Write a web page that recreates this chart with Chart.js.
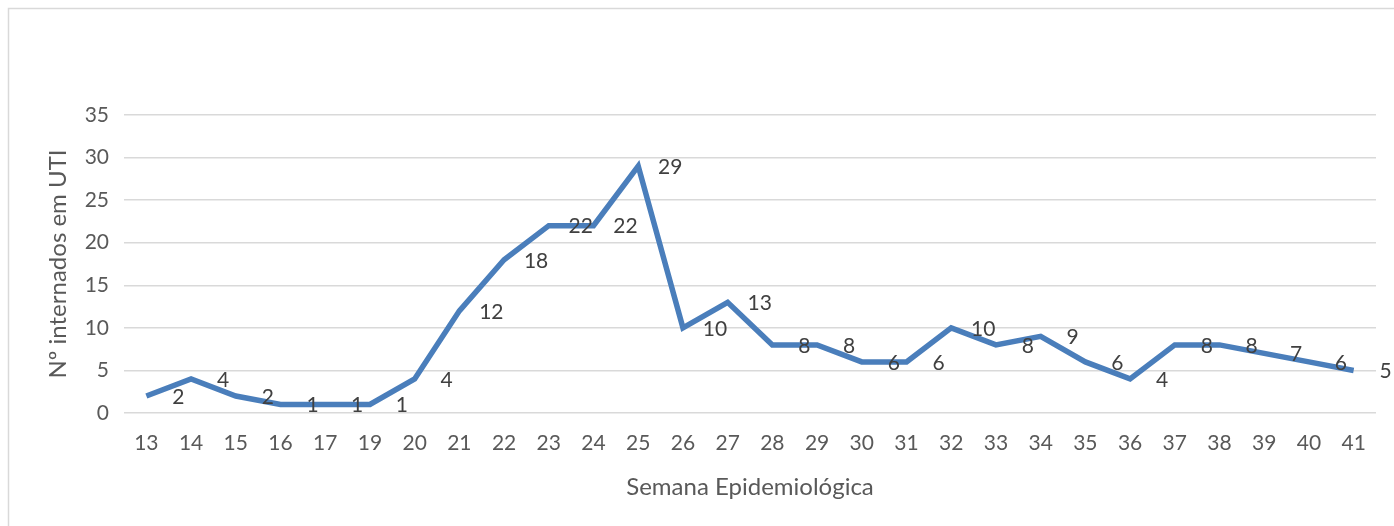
<!DOCTYPE html>
<html>
<head>
<meta charset="utf-8">
<script src="https://cdn.jsdelivr.net/npm/chart.js@4/dist/chart.umd.min.js"></script>
<style>
  html, body { margin: 0; padding: 0; background: #fff; }
  #wrap { width: 1394px; height: 526px; position: relative; }
</style>
</head>
<body>
<div id="wrap"><canvas id="chart" width="1394" height="526"></canvas></div>
<script>
// Semana epidemiológica (note: week 18 is absent in the source)
const weeks = ['13','14','15','16','17','19','20','21','22','23','24','25','26','27',
               '28','29','30','31','32','33','34','35','36','37','38','39','40','41'];
const internados = [2, 4, 2, 1, 1, 1, 4, 12, 18, 22, 22, 29, 10, 13,
                    8, 8, 6, 6, 10, 8, 9, 6, 4, 8, 8, 7, 6, 5];
const yTicks = [0, 5, 10, 15, 20, 25, 30, 35];

const FONT = 'Lato, "Open Sans", sans-serif';
const TEXT = '#595959';

// frame, axis titles and the value labels Excel puts to the right of each point
const decor = {
  id: 'decor',
  beforeDraw(chart) {
    const c = chart.ctx;
    c.save();
    c.strokeStyle = '#d9d9d9';
    c.lineWidth = 1.5;
    c.beginPath();
    c.moveTo(8.5, 530); c.lineTo(8.5, 8.5); c.lineTo(1400, 8.5);
    c.stroke();
    c.restore();
  },
  afterDatasetsDraw(chart) {
    const c = chart.ctx;
    const a = chart.chartArea;
    c.save();
    c.fillStyle = TEXT;
    c.font = '24px ' + FONT;
    c.textAlign = 'center';
    c.textBaseline = 'middle';
    c.fillText('Semana Epidemiológica', (a.left + a.right) / 2, 487);
    c.translate(58, (a.top + a.bottom) / 2);
    c.rotate(-Math.PI / 2);
    c.fillText('Nº internados em UTI', 0, 0);
    c.restore();

    c.save();
    c.fillStyle = '#404040';
    c.font = '21px ' + FONT;
    c.textAlign = 'center';
    c.textBaseline = 'middle';
    chart.getDatasetMeta(0).data.forEach((pt, i) => {
      c.fillText(String(internados[i]), pt.x + 32, pt.y + 1);
    });
    c.restore();
  }
};

new Chart(document.getElementById('chart'), {
  type: 'line',
  data: {
    labels: weeks,
    datasets: [{
      data: internados,
      borderColor: '#4a7ebb',
      borderWidth: 5.5,
      pointRadius: 0,
      tension: 0,
      borderJoinStyle: 'miter',
      fill: false,
    }],
  },
  options: {
    responsive: false,
    animation: false,
    devicePixelRatio: 1,
    layout: { padding: { top: 115, right: 18, left: 0, bottom: 0 } },
    plugins: { legend: { display: false }, tooltip: { enabled: false } },
    scales: {
      x: {
        offset: true,
        grid: { display: false, drawTicks: false },
        border: { display: false },
        ticks: { color: TEXT, font: { family: FONT, size: 21 }, padding: 18, maxRotation: 0, autoSkip: false },
        afterFit: (s) => { s.height = 113; },
      },
      y: {
        min: 0, max: 35,
        afterBuildTicks: (s) => { s.ticks = yTicks.map(v => ({ value: v })); },
        grid: { color: '#d9d9d9', lineWidth: 1.5, drawTicks: false },
        border: { display: false },
        ticks: { color: TEXT, font: { family: FONT, size: 21 }, padding: 15 },
        afterFit: (s) => { s.width = 124; },
      },
    },
  },
  plugins: [decor],
});
</script>
</body>
</html>
